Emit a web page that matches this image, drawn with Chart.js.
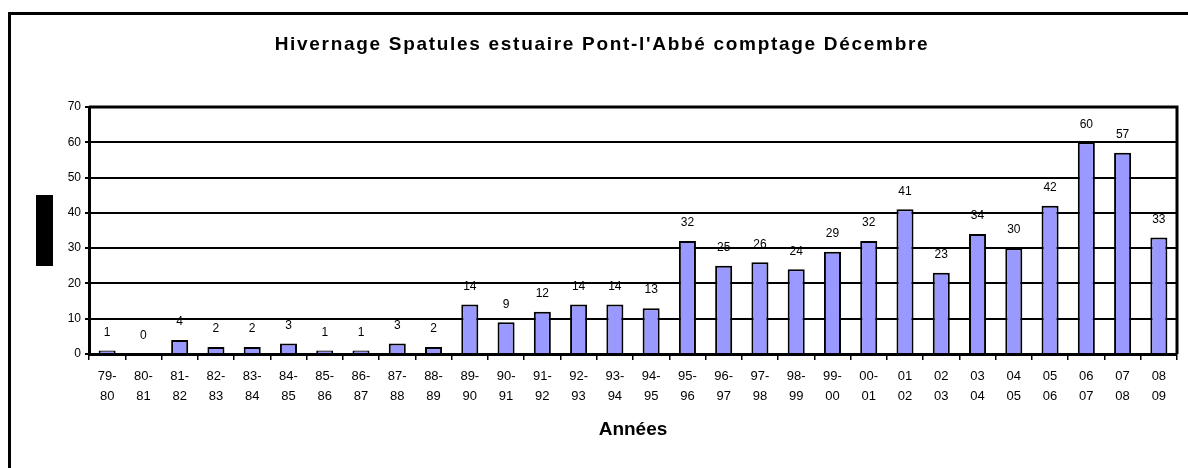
<!DOCTYPE html>
<html>
<head>
<meta charset="utf-8">
<script src="https://cdn.jsdelivr.net/npm/chart.js@4"></script>
<style>
  body { margin: 0; background: #fff; overflow: hidden; }
  #frame { position: absolute; left: 8px; top: 12px; width: 1180px; height: 456px; border-left: 3px solid #000; border-top: 3px solid #000; }
  #wrap { position: absolute; left: 0; top: 0; width: 1188px; height: 468px; }
</style>
</head>
<body>
<div id="frame"></div>
<div id="wrap"><canvas id="chart" width="1188" height="468"></canvas></div>
<script>
// données : comptage de décembre
const saisons = [
  ['79-', '80'], ['80-', '81'], ['81-', '82'], ['82-', '83'], ['83-', '84'],
  ['84-', '85'], ['85-', '86'], ['86-', '87'], ['87-', '88'], ['88-', '89'],
  ['89-', '90'], ['90-', '91'], ['91-', '92'], ['92-', '93'], ['93-', '94'],
  ['94-', '95'], ['95-', '96'], ['96-', '97'], ['97-', '98'], ['98-', '99'],
  ['99-', '00'], ['00-', '01'], ['01', '02'], ['02', '03'], ['03', '04'],
  ['04', '05'], ['05', '06'], ['06', '07'], ['07', '08'], ['08', '09']
];
const spatules = [1, 0, 4, 2, 2, 3, 1, 1, 3, 2, 14, 9, 12, 14, 14, 13, 32, 25, 26, 24, 29, 32, 41, 23, 34, 30, 42, 60, 57, 33];
const yTicks = [0, 10, 20, 30, 40, 50, 60, 70];
const titre = "Hivernage Spatules estuaire Pont-l'Abbé comptage Décembre";

// valeurs au-dessus des barres, cadre de la zone de tracé, titre espacé
const etiquettes = {
  id: 'etiquettes',
  afterDatasetsDraw(chart) {
    const ctx = chart.ctx;
    const meta = chart.getDatasetMeta(0);
    ctx.save();
    ctx.font = '12px "Liberation Sans", Arial, sans-serif';
    ctx.fillStyle = '#000';
    ctx.textAlign = 'center';
    ctx.textBaseline = 'middle';
    meta.data.forEach((bar, i) => {
      ctx.fillText(String(spatules[i]), bar.x, bar.y - 18);
    });
    ctx.restore();
  },
  afterDraw(chart) {
    const a = chart.chartArea;
    const ctx = chart.ctx;
    ctx.save();
    ctx.strokeStyle = '#000';
    ctx.lineWidth = 3;
    ctx.beginPath();
    ctx.moveTo(a.left, a.top);
    ctx.lineTo(a.right, a.top);
    ctx.lineTo(a.right, a.bottom);
    ctx.stroke();
    // titre de l'axe Y masqué (rectangle noir)
    const mid = (a.top + a.bottom) / 2;
    ctx.fillStyle = '#000';
    ctx.fillRect(36, mid - 35.5, 17, 71);
    // titre du graphique
    ctx.font = 'bold 19px "Liberation Sans", Arial, sans-serif';
    ctx.letterSpacing = '1.7px';
    ctx.textAlign = 'center';
    ctx.textBaseline = 'middle';
    ctx.fillText(titre, 602, 45);
    ctx.restore();
  }
};

new Chart(document.getElementById('chart'), {
  type: 'bar',
  data: {
    labels: saisons,
    datasets: [{
      data: spatules,
      backgroundColor: '#9999FF',
      borderColor: '#000',
      borderWidth: 2,
      borderSkipped: 'bottom',
      barPercentage: 0.47,
      categoryPercentage: 1
    }]
  },
  options: {
    responsive: false,
    animation: false,
    devicePixelRatio: 1,
    layout: { padding: { left: 0, right: 11, top: 107, bottom: 0 } },
    plugins: {
      legend: { display: false },
      tooltip: { enabled: false },
      title: { display: false }
    },
    scales: {
      x: {
        grid: { display: true, drawOnChartArea: false, drawTicks: true, tickLength: 6, color: '#000', lineWidth: 1.5, offset: true },
        border: { display: true, color: '#000', width: 3 },
        ticks: {
          color: '#000',
          maxRotation: 0,
          autoSkip: false,
          padding: 6,
          font: { family: '"Liberation Sans", Arial, sans-serif', size: 13, lineHeight: 1.55 }
        },
        title: {
          display: true,
          text: 'Années',
          color: '#000',
          font: { family: '"Liberation Sans", Arial, sans-serif', size: 19, weight: 'bold' },
          padding: { top: 8, bottom: 27 }
        },
        afterFit(scale) { scale.height = 114; }
      },
      y: {
        min: 0,
        max: 70,
        afterBuildTicks(scale) { scale.ticks = yTicks.map(v => ({ value: v })); },
        grid: { color: '#000', lineWidth: 2, tickLength: 4, drawTicks: true },
        border: { display: true, color: '#000', width: 3 },
        ticks: {
          color: '#000',
          padding: 4,
          font: { family: '"Liberation Sans", Arial, sans-serif', size: 12 }
        },
        afterFit(scale) { scale.width = 89; }
      }
    }
  },
  plugins: [etiquettes]
});
</script>
</body>
</html>
